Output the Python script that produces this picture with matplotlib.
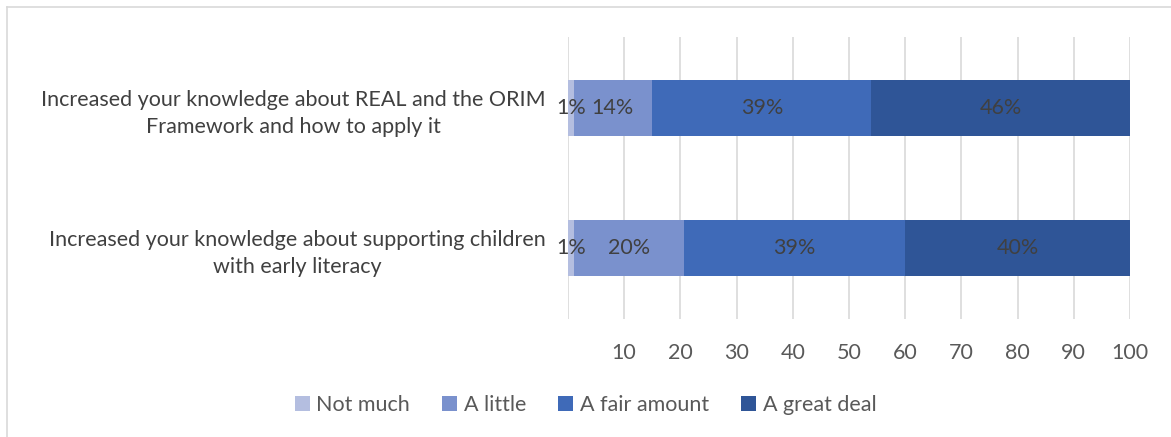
import numpy as np
import matplotlib.pyplot as plt
from matplotlib.lines import Line2D

plt.rcParams['font.family'] = ['Lato', 'DejaVu Sans']

categories = ["Increased your knowledge about REAL and the ORIM\nFramework and how to apply it",
              "Increased your knowledge about supporting children\nwith early literacy"]
series = ["Not much", "A little", "A fair amount", "A great deal"]
not_much = [1, 1]
a_little = [14, 19.6]
fair_amount = [39, 39.4]
great_deal = [46, 40]
labels = [["1%", "1%"], ["14%", "20%"], ["39%", "39%"], ["46%", "40%"]]
colors = ["#B4BEE0", "#7A91CD", "#3F6AB8", "#2F5597"]

fs = 15.5
fig = plt.figure(figsize=(11.71, 4.37), dpi=100)
# chart border: only top and left edges visible
fig.lines.append(Line2D([0.006, 1.0], [0.984, 0.984], transform=fig.transFigure, color="#D9D9D9", lw=1.2))
fig.lines.append(Line2D([0.006, 0.006], [0.0, 0.984], transform=fig.transFigure, color="#D9D9D9", lw=1.2))
ax = fig.add_axes([0.485, 0.27, 0.48, 0.645])

y = np.arange(len(categories))
left = np.zeros(len(categories))
for vals, name, col, labs in zip([not_much, a_little, fair_amount, great_deal], series, colors, labels):
    vals = np.array(vals, dtype=float)
    ax.barh(y, vals, left=left, height=0.4, color=col, label=name, zorder=2)
    for yi, v, l0, lab in zip(y, vals, left, labs):
        ax.text(l0 + v / 2, yi, lab, ha="center", va="center", fontsize=fs, color="#404040", zorder=3)
    left += vals

ax.set_xlim(0, 100)
ax.set_ylim(1.507, -0.507)
ax.set_xticks(np.arange(0, 101, 10))
ax.set_xticklabels([""] + [str(v) for v in range(10, 101, 10)])
ax.set_yticks(y)
ax.set_yticklabels(categories, fontsize=fs, color="#404040", linespacing=1.45)
for lab in ax.get_yticklabels():
    lab.set_horizontalalignment("right")
    lab.set_multialignment("center")
ax.tick_params(axis="x", length=0, labelsize=fs, labelcolor="#595959", pad=17)
ax.tick_params(axis="y", length=0, pad=16)
ax.grid(axis="x", color="#D9D9D9", lw=1.2, zorder=0)
for s in ax.spines.values():
    s.set_visible(False)

fig.legend(loc="lower center", bbox_to_anchor=(0.5, 0.005), ncol=4, frameon=False,
           fontsize=fs, labelcolor="#595959", handlelength=0.7, handleheight=0.7,
           handletextpad=0.3, columnspacing=1.5)

fig.savefig("out.png", dpi=100)
